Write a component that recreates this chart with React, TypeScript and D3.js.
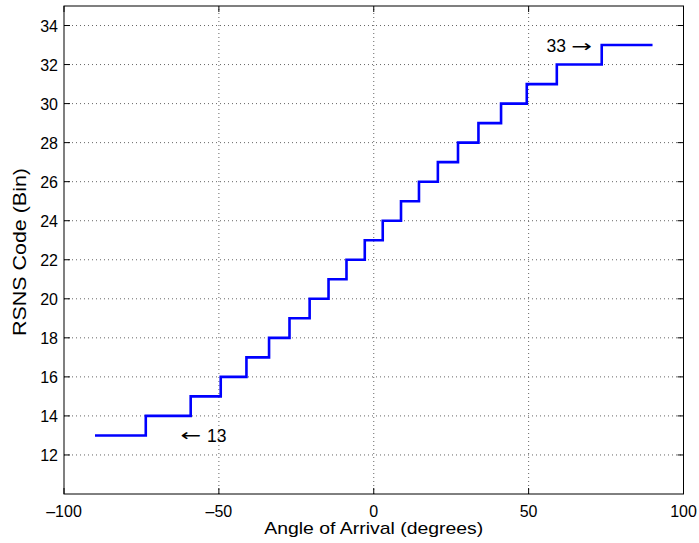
import React from "react";
import * as d3 from "d3";

const breakAngles = [-90, -73.6, -59.1, -49.4, -41.1, -33.8, -27.2, -20.7, -14.6, -8.8, -2.9, 2.9, 8.8, 14.6, 20.7, 27.2, 33.8, 41.1, 49.4, 59.1, 73.6, 90];
const codes = [13, 14, 15, 16, 17, 18, 19, 20, 21, 22, 23, 24, 25, 26, 27, 28, 29, 30, 31, 32, 33];
const xTicks = [-100, -50, 0, 50, 100];
const yTicks = [12, 14, 16, 18, 20, 22, 24, 26, 28, 30, 32, 34];
const xTickLabels = ["\u2013100", "\u201350", "0", "50", "100"];

const W = 699, H = 543;
const m = { left: 64, right: 15.5, top: 6, bottom: 49 };

export default function App() {
  const x = d3.scaleLinear().domain([-100, 100]).range([m.left, W - m.right]);
  const y = d3.scaleLinear().domain([10, 35]).range([H - m.bottom, m.top]);
  const pts: [number, number][] = [];
  codes.forEach((c, i) => {
    pts.push([breakAngles[i], c]);
    pts.push([breakAngles[i + 1], c]);
  });
  const line = d3.line<[number, number]>().x(d => x(d[0])).y(d => y(d[1]));
  const x0 = m.left, x1 = W - m.right, y0 = H - m.bottom, y1 = m.top;
  const font = "'Liberation Sans', Arial, Helvetica, sans-serif";
  const arrowFont = "'DejaVu Sans', sans-serif";
  const tl = 6;
  return (
    <svg width={W} height={H} style={{ position: "absolute", left: 0, top: 0, background: "#fff" }} fontFamily={font}>
      <rect x={0} y={0} width={W} height={H} fill="#fff" />
      {xTicks.slice(1, -1).map(t => (
        <line key={"gx" + t} x1={x(t)} x2={x(t)} y1={y0} y2={y1} stroke="#666" strokeWidth={1} strokeDasharray="1 3" />
      ))}
      {yTicks.map(t => (
        <line key={"gy" + t} x1={x0} x2={x1} y1={y(t)} y2={y(t)} stroke="#666" strokeWidth={1} strokeDasharray="1 3" />
      ))}
      <path d={line(pts) || ""} fill="none" stroke="#0000ff" strokeWidth={2.6} />
      <rect x={x0} y={y1} width={x1 - x0} height={y0 - y1} fill="none" stroke="#000" strokeWidth={1} />
      {xTicks.map((t, i) => (
        <g key={"tx" + t}>
          <line x1={x(t)} x2={x(t)} y1={y0} y2={y0 - tl} stroke="#000" />
          <line x1={x(t)} x2={x(t)} y1={y1} y2={y1 + tl} stroke="#000" />
          <text x={x(t)} y={y0 + 23} fontSize={16} textAnchor="middle">{xTickLabels[i]}</text>
        </g>
      ))}
      {yTicks.map(t => (
        <g key={"ty" + t}>
          <line x1={x0} x2={x0 + tl} y1={y(t)} y2={y(t)} stroke="#000" />
          <line x1={x1} x2={x1 - tl} y1={y(t)} y2={y(t)} stroke="#000" />
          <text x={x0 - 6} y={y(t) + 6} fontSize={16} textAnchor="end">{t}</text>
        </g>
      ))}
      <text transform={`translate(${x(-62.4)},${y(13) + 6}) scale(1.45,1)`} fontSize={17} fontFamily={arrowFont}>{"\u2190"}</text>
      <text x={x(-53.8)} y={y(13) + 6.5} fontSize={17.5}>13</text>
      <text x={x(55.8)} y={y(33) + 7} fontSize={17.5}>33</text>
      <text transform={`translate(${x(63.8)},${y(33) + 6.5}) scale(1.45,1)`} fontSize={17} fontFamily={arrowFont}>{"\u2192"}</text>
      <text x={(x0 + x1) / 2} y={534} fontSize={17} textAnchor="middle" textLength={219} lengthAdjust="spacingAndGlyphs">Angle of Arrival (degrees)</text>
      <text transform={`translate(26,${(y0 + y1) / 2 + 2}) rotate(-90)`} fontSize={17.5} textAnchor="middle" textLength={168} lengthAdjust="spacingAndGlyphs">RSNS Code (Bin)</text>
    </svg>
  );
}
